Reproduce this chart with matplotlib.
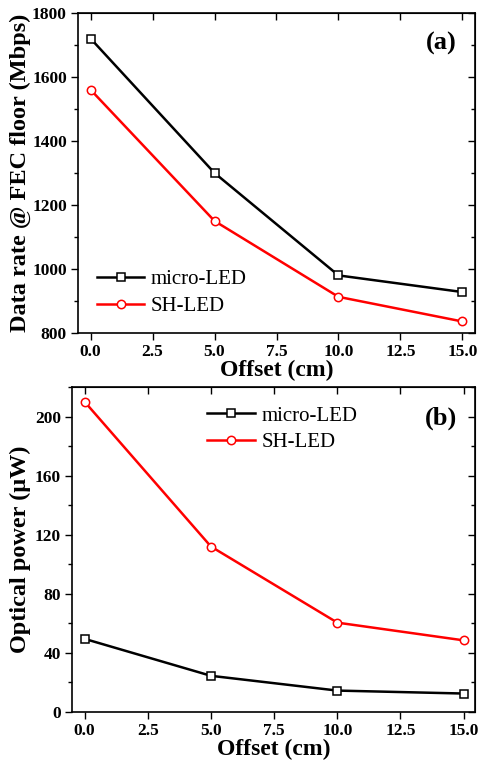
import matplotlib
matplotlib.use("Agg")
import matplotlib.pyplot as plt
from matplotlib.ticker import MultipleLocator, FormatStrFormatter

offset = [0, 5, 10, 15]
rate_micro = [1720, 1300, 980, 928]
rate_sh = [1560, 1150, 913, 836]
power_micro = [49.5, 24.5, 14.5, 12.5]
power_sh = [210, 112, 60.5, 48.5]

plt.rcParams['font.family'] = ['Liberation Serif', 'DejaVu Serif']

W, H = 481, 766
fig = plt.figure(figsize=(W/100, H/100), dpi=100)

def box(l, r, t, b):
    return [l/W, 1-b/H, (r-l)/W, (b-t)/H]

ax1 = fig.add_axes(box(78, 475, 13, 333))
ax2 = fig.add_axes(box(72, 475, 387, 712))

def style(ax, ymaj, ymin):
    ax.yaxis.set_major_locator(MultipleLocator(ymaj))
    ax.yaxis.set_minor_locator(MultipleLocator(ymin))
    ax.xaxis.set_major_locator(MultipleLocator(2.5))
    ax.xaxis.set_major_formatter(FormatStrFormatter('%.1f'))
    ax.tick_params(axis='both', which='major', direction='out', length=5, width=1,
                   labelsize=12.5, pad=3)
    ax.tick_params(axis='y', which='minor', direction='out', length=3, width=1)
    ax.tick_params(top=False, right=False, which='both')
    for lab in ax.get_xticklabels() + ax.get_yticklabels():
        lab.set_fontweight('bold')
    for s in ax.spines.values():
        s.set_linewidth(1.2)
    sec = ax.secondary_xaxis('top')
    sec.xaxis.set_major_locator(MultipleLocator(2.5))
    sec.tick_params(direction='in', length=5, width=1, labeltop=False)
    sec.set_xticklabels([])
    secy = ax.secondary_yaxis('right')
    secy.yaxis.set_major_locator(MultipleLocator(ymaj))
    secy.yaxis.set_minor_locator(MultipleLocator(ymin))
    secy.tick_params(which='major', direction='in', length=5, width=1)
    secy.tick_params(which='minor', direction='in', length=3, width=1)
    secy.set_yticklabels([])

ax1.plot(offset, rate_micro, color='black', lw=1.8, marker='s', ms=5.5,
         mfc='white', mec='black', mew=1.1, label='micro-LED')
ax1.plot(offset, rate_sh, color='red', lw=1.8, marker='o', ms=6,
         mfc='white', mec='red', mew=1.1, label='SH-LED')
ax1.set_xlim(-0.51, 15.51)
ax1.set_ylim(800, 1800)
style(ax1, 200, 100)
ax1.set_xlabel('Offset (cm)', fontsize=17, fontweight='bold', labelpad=0)
ax1.set_ylabel('Data rate @ FEC floor (Mbps)', fontsize=17.5, fontweight='bold', labelpad=1)
ax1.text(0.915, 0.905, '(a)', transform=ax1.transAxes, fontsize=19, fontweight='bold',
         ha='center', va='center')
ax1.legend(loc='center left', bbox_to_anchor=(0.01, 0.125), frameon=False, fontsize=15,
           handlelength=2.3, handletextpad=0.3, labelspacing=0.35, borderaxespad=0.3)

ax2.plot(offset, power_micro, color='black', lw=1.8, marker='s', ms=5.5,
         mfc='white', mec='black', mew=1.1, label='micro-LED')
ax2.plot(offset, power_sh, color='red', lw=1.8, marker='o', ms=6,
         mfc='white', mec='red', mew=1.1, label='SH-LED')
ax2.set_xlim(-0.5, 15.45)
ax2.set_ylim(0, 220)
style(ax2, 40, 20)
ax2.set_xlabel('Offset (cm)', fontsize=17, fontweight='bold', labelpad=0)
ax2.set_ylabel('Optical power (μW)', fontsize=17.5, fontweight='bold', labelpad=3)
ax2.text(0.915, 0.905, '(b)', transform=ax2.transAxes, fontsize=19, fontweight='bold',
         ha='center', va='center')
ax2.legend(loc='center left', bbox_to_anchor=(0.30, 0.87), frameon=False, fontsize=15,
           handlelength=2.3, handletextpad=0.3, labelspacing=0.35, borderaxespad=0.3)

fig.savefig('out.png', dpi=100)
